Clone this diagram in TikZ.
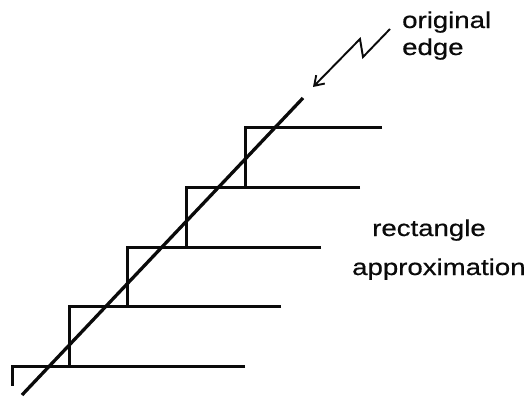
\documentclass[tikz,border=0pt]{standalone}
\usepackage{fontspec}
\usepackage{tikz}
\usetikzlibrary{arrows.meta, positioning}
\newfontfamily\labelfont[FakeStretch=1.2, FakeBold=0.6]{Liberation Sans}
\definecolor{inkdark}{RGB}{10,10,10}
\tikzset{
  stairline/.style={line width=3pt, color=inkdark, line join=miter},
  edgeline/.style={line width=3.3pt, color=inkdark},
  boltarrow/.style={-{Straight Barb[length=9pt, width=12pt, line width=1.9pt]}, line width=1.9pt, color=inkdark},
  textlabel/.style={font=\labelfont\fontsize{23}{27}\selectfont, inner sep=0pt, color=inkdark}
}
\begin{document}
\begin{tikzpicture}[x=1pt, y=-1pt]
  \useasboundingbox (0,0) rectangle (530,399);

  % Staircase of rectangles
  \foreach \yy/\xl/\xr/\yn in {127/245/382/187, 187/186/360/247, 247/127/321/306, 306/69/281/366, 366/12/245/386} {
    \draw[stairline] (\xr, \yy) -- (\xl, \yy) -- (\xl, \yn);
  }

  % Original edge
  \coordinate (edgelow) at (22, 395);
  \coordinate (edgehigh) at (303, 98);
  \draw[edgeline] (edgelow) -- (edgehigh);

  % Labels (base = last line)
  \node[textlabel, anchor=base west, align=left] (edgelabel) at (402, 55) {original\\edge};
  \node[textlabel, anchor=base west, align=left, font=\labelfont\fontsize{23}{39}\selectfont] (rectlabel) at (352, 275) {\hspace*{20pt}rectangle\\approximation};

  % Zigzag pointer
  \coordinate (boltstart) at (390, 29);
  \coordinate (edgetip) at (313, 87);
  \draw[boltarrow] (boltstart) -- (363, 57) -- (360, 39) -- (edgetip);
\end{tikzpicture}
\end{document}
